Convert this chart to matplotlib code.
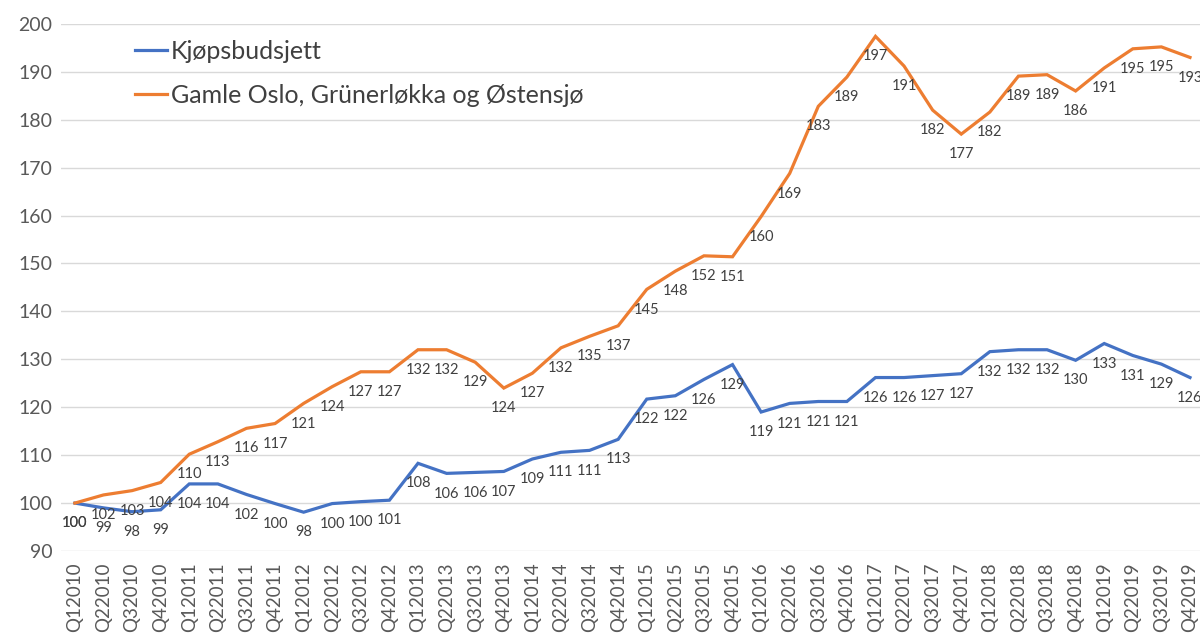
import matplotlib
matplotlib.use("Agg")
import matplotlib.pyplot as plt

plt.rcParams['font.family'] = ['Lato', 'DejaVu Sans']

quarters = [f"Q{q}{y}" for y in range(2010, 2020) for q in range(1, 5)]

kjopsbudsjett = [100.0, 99.0, 98.2, 98.6, 104.0, 104.0, 101.8, 99.9,
                 98.1, 99.9, 100.3, 100.6, 108.3, 106.2, 106.4, 106.6,
                 109.2, 110.6, 111.0, 113.3, 121.7, 122.4, 125.8, 128.9,
                 119.0, 120.8, 121.2, 121.2, 126.2, 126.2, 126.6, 127.0,
                 131.6, 132.0, 132.0, 129.8, 133.3, 130.8, 129.0, 126.2]

gamle_oslo = [100.0, 101.7, 102.6, 104.3, 110.2, 112.8, 115.6, 116.6,
              120.8, 124.3, 127.4, 127.4, 132.0, 132.0, 129.4, 124.0,
              127.1, 132.4, 134.8, 137.0, 144.6, 148.4, 151.6, 151.4,
              159.8, 168.8, 182.8, 188.9, 197.4, 191.2, 182.0, 177.0,
              181.6, 189.1, 189.4, 186.0, 190.8, 194.8, 195.2, 193.0]

series_names = ["Kjøpsbudsjett", "Gamle Oslo, Grünerløkka og Østensjø"]
series_colors = ["#4472C4", "#ED7D31"]

fig = plt.figure(figsize=(12, 6.37), dpi=100)
ax = fig.add_axes([0.0505, 0.135, 0.9495, 0.8275])

x = list(range(len(quarters)))
for vals, name, col in zip([kjopsbudsjett, gamle_oslo], series_names, series_colors):
    ax.plot(x, vals, color=col, lw=2.3, label=name, solid_joinstyle='miter', zorder=3)
    for xi, v in zip(x, vals):
        ax.annotate(f"{v:.0f}", (xi, v), xytext=(0, -14.5), textcoords='offset points',
                    ha='center', va='center', fontsize=10.5, color='#404040', zorder=4)

ax.set_xlim(-0.5, 39.35)
ax.set_ylim(90, 200)
ax.set_yticks(range(90, 201, 10))
ax.set_xticks(x)
ax.set_xticklabels(quarters, rotation=90, fontsize=13.5, color='#595959')
ax.tick_params(axis='y', labelsize=14, colors='#595959', length=0, pad=6)
ax.tick_params(axis='x', length=0, pad=8)
ax.grid(axis='y', color='#d9d9d9', lw=1, zorder=0)
for s in ax.spines.values():
    s.set_visible(False)

leg = ax.legend(loc='upper left', bbox_to_anchor=(0.065, 0.97), frameon=False,
                fontsize=18, handlelength=1.3, handletextpad=0.15, labelspacing=0.85,
                borderaxespad=0, borderpad=0, labelcolor='#404040')

fig.savefig("out.png", dpi=100, facecolor='white')
